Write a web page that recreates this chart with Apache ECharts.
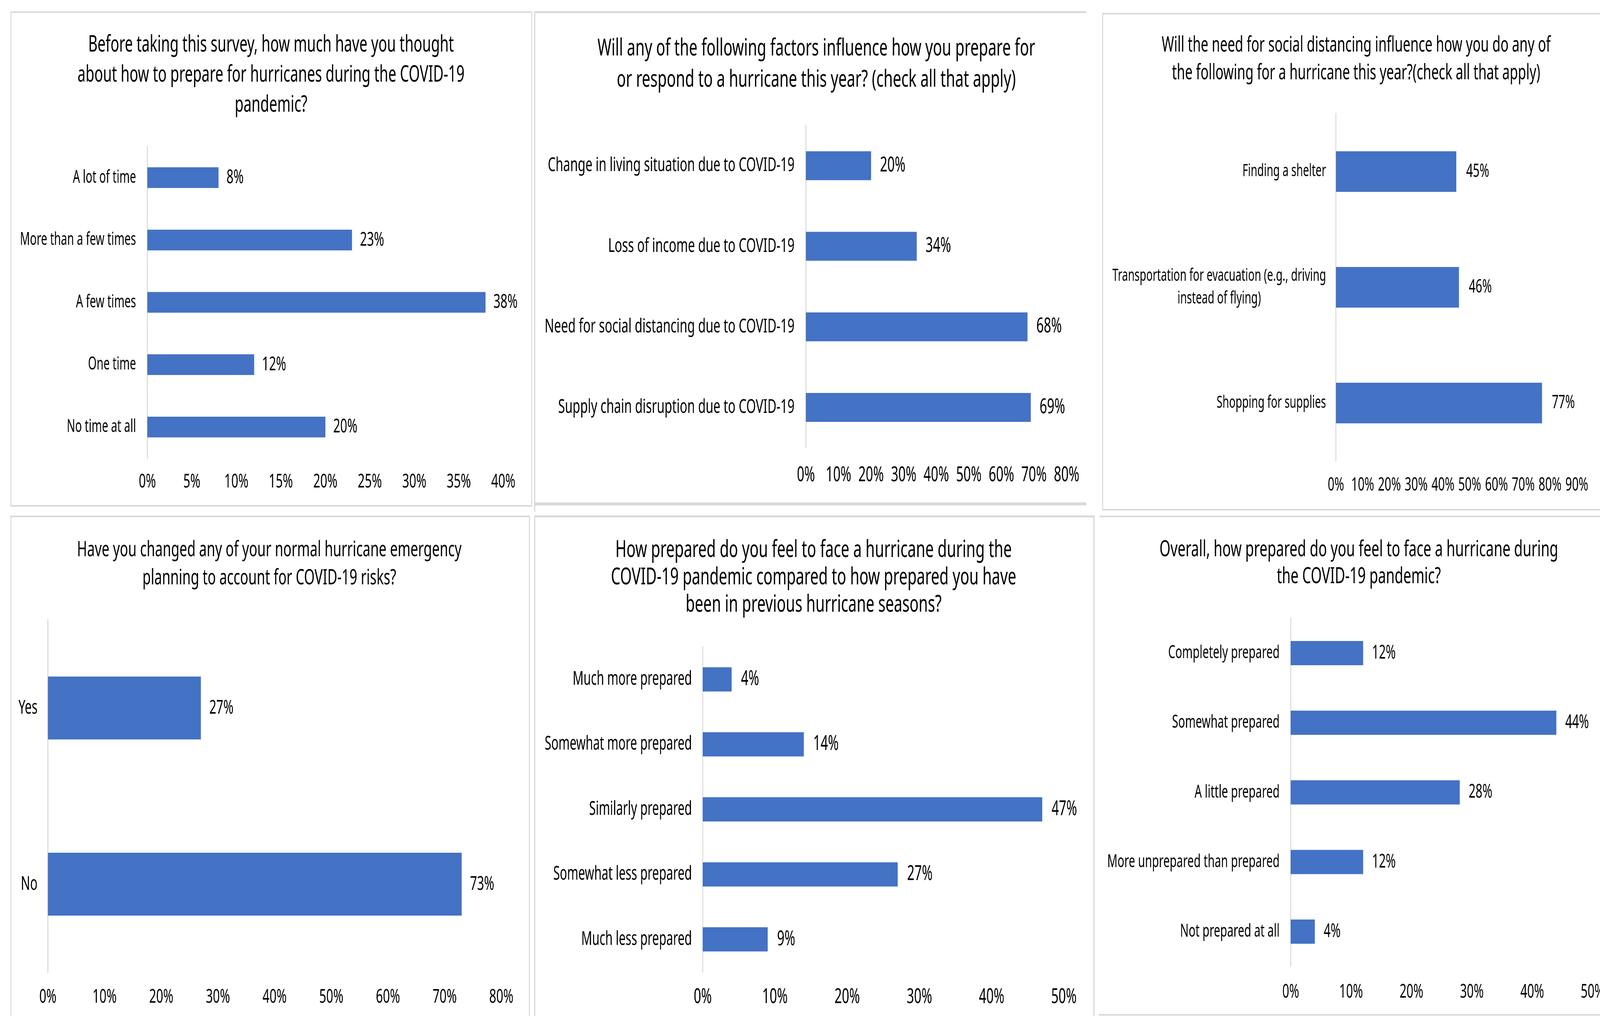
<!DOCTYPE html>
<html>
<head>
<meta charset="utf-8">
<script src="https://cdn.jsdelivr.net/npm/echarts@6/dist/echarts.min.js"></script>
<style>
html,body{margin:0;padding:0;background:#fff;overflow:hidden}
#c{width:6482px;height:2601px;transform-origin:0 0;position:absolute;left:0;top:0}
</style>
</head>
<body>
<div id="c"></div>
<script>
// ---------------- DATA ----------------
const q1Title = ['Before taking this survey, how much have you thought', 'about how to prepare for hurricanes during the COVID-19', 'pandemic?'];
const q1Categories = ['A lot of time', 'More than a few times', 'A few times', 'One time', 'No time at all'];
const q1Values = [8, 23, 38, 12, 20];
const q1AxisMax = 40, q1AxisStep = 5;

const q2Title = ['Will any of the following factors influence how you prepare for', 'or respond to a hurricane this year? (check all that apply)'];
const q2Categories = ['Change in living situation due to COVID-19', 'Loss of income due to COVID-19', 'Need for social distancing due to COVID-19', 'Supply chain disruption due to COVID-19'];
const q2Values = [20, 34, 68, 69];
const q2AxisMax = 80, q2AxisStep = 10;

const q3Title = ['Will the need for social distancing influence how you do any of', 'the following for a hurricane this year?(check all that apply)'];
const q3Categories = ['Finding a shelter', 'Transportation for evacuation (e.g., driving\ninstead of flying)', 'Shopping for supplies'];
const q3Values = [45, 46, 77];
const q3AxisMax = 90, q3AxisStep = 10;

const q4Title = ['Have you changed any of your normal hurricane emergency', 'planning to account for COVID-19 risks?'];
const q4Categories = ['Yes', 'No'];
const q4Values = [27, 73];
const q4AxisMax = 80, q4AxisStep = 10;

const q5Title = ['How prepared do you feel to face a hurricane during the', 'COVID-19 pandemic compared to how prepared you have', 'been in previous hurricane seasons?'];
const q5Categories = ['Much more prepared', 'Somewhat more prepared', 'Similarly prepared', 'Somewhat less prepared', 'Much less prepared'];
const q5Values = [4, 14, 47, 27, 9];
const q5AxisMax = 50, q5AxisStep = 10;

const q6Title = ['Overall, how prepared do you feel to face a hurricane during', 'the COVID-19 pandemic?'];
const q6Categories = ['Completely prepared', 'Somewhat prepared', 'A little prepared', 'More unprepared than prepared', 'Not prepared at all'];
const q6Values = [12, 44, 28, 12, 4];
const q6AxisMax = 50, q6AxisStep = 10;

// ---------------- STYLE / LAYOUT ----------------
const FAMILY = 'Noto Sans';
const TEXT = '#000000';
const BAR = '#4472C4';
const LINE = '#d9d9d9';
const PAGE_W = 6482, PAGE_H = 2601;

const mctx = document.createElement('canvas').getContext('2d');
function fit(text, target) {
  mctx.font = '100px "' + FAMILY + '"';
  return Math.round(100 * target / mctx.measureText(text).width * 10) / 10;
}

const panels = [
  {title: q1Title, cats: q1Categories, vals: q1Values, max: q1AxisMax, step: q1AxisStep,
   L: 597, R: 2039, T: 375, B: 1173, bar: 53, tx: 1098, ty: 116, tlh: 77, tw: 1480,
   catRef: 'More than a few times', catW: 470, catM: 46, tickW: 98, tickY: 1229, gap: 32, catLH: 56},
  {title: q2Title, cats: q2Categories, vals: q2Values, max: q2AxisMax, step: q2AxisStep,
   L: 3265, R: 4321, T: 321, B: 1146, bar: 74, tx: 3307, ty: 125, tlh: 80, tw: 1772,
   catRef: 'Need for social distancing due to COVID-19', catW: 1012, catM: 46, tickW: 103, tickY: 1212, gap: 36, catLH: 58},
  {title: q3Title, cats: q3Categories, vals: q3Values, max: q3AxisMax, step: q3AxisStep,
   L: 5412, R: 6388, T: 291, B: 1180, bar: 104, tx: 5494, ty: 117, tlh: 71, tw: 1575,
   catRef: 'Transportation for evacuation (e.g., driving', catW: 865, catM: 40, tickW: 93, tickY: 1238, gap: 40, catLH: 58},
  {title: q4Title, cats: q4Categories, vals: q4Values, max: q4AxisMax, step: q4AxisStep,
   L: 194, R: 2031, T: 1587, B: 2489, bar: 161, tx: 1091, ty: 1408, tlh: 72, tw: 1559,
   catRef: '10%', catW: 98, catM: 42, tickW: 98, tickY: 2548, gap: 34, catLH: 56},
  {title: q5Title, cats: q5Categories, vals: q5Values, max: q5AxisMax, step: q5AxisStep,
   L: 2847, R: 4310, T: 1656, B: 2488, bar: 62, tx: 3296, ty: 1409, tlh: 70, tw: 1605,
   catRef: 'Somewhat more prepared', catW: 596, catM: 44, tickW: 103, tickY: 2548, gap: 38, catLH: 58},
  {title: q6Title, cats: q6Categories, vals: q6Values, max: q6AxisMax, step: q6AxisStep,
   L: 5229, R: 6452, T: 1583, B: 2474, bar: 62, tx: 5505, ty: 1408, tlh: 69, tw: 1615,
   catRef: 'More unprepared than prepared', catW: 699, catM: 45, tickW: 96, tickY: 2535, gap: 36, catLH: 58}
];

const option = {
  animation: false,
  backgroundColor: '#ffffff',
  title: [], grid: [], xAxis: [], yAxis: [], series: [],
  graphic: []
};

panels.forEach((p, i) => {
  const titleSize = fit(p.title[0], p.tw);
  const catSize = fit(p.catRef, p.catW);
  const tickSize = fit('10%', p.tickW);
  option.title.push({
    text: p.title.join('\n'),
    left: p.tx, top: p.ty - p.tlh / 2, textAlign: 'center', padding: 0,
    textStyle: {fontFamily: FAMILY, fontWeight: 'normal', fontSize: titleSize, lineHeight: p.tlh, color: TEXT}
  });
  option.grid.push({left: p.L, top: p.T, width: p.R - p.L, height: p.B - p.T, containLabel: false, outerBoundsMode: 'none'});
  option.xAxis.push({
    type: 'value', gridIndex: i, min: 0, max: p.max, interval: p.step,
    axisLine: {show: false}, axisTick: {show: false}, splitLine: {show: false},
    axisLabel: {formatter: '{value}%', fontFamily: FAMILY, fontSize: tickSize, color: TEXT,
      margin: Math.round(p.tickY - p.B - tickSize * 0.4)}
  });
  option.yAxis.push({
    type: 'category', gridIndex: i, data: p.cats, inverse: true,
    axisLine: {show: true, lineStyle: {color: LINE, width: 4}},
    axisTick: {show: false}, splitLine: {show: false},
    axisLabel: {
      interval: 0, margin: p.catM, align: 'right',
      formatter: v => v.split('\n').map(s => '{c|' + s + '}').join('\n'),
      rich: {c: {align: 'center', fontFamily: FAMILY, fontSize: catSize, color: TEXT, lineHeight: p.catLH}}
    }
  });
  option.series.push({
    type: 'bar', xAxisIndex: i, yAxisIndex: i, data: p.vals, barWidth: p.bar,
    itemStyle: {color: BAR},
    label: {show: true, position: 'right', distance: p.gap, formatter: '{c}%',
      fontFamily: FAMILY, fontSize: tickSize, color: TEXT}
  });
});

// panel frames (decoration)
const frame = (pts, w) => ({type: 'polyline', silent: true, z: -1,
  shape: {points: pts}, style: {stroke: LINE, lineWidth: w || 4, fill: null}});
option.graphic = [
  frame([[44, 31], [2154, 31], [2154, 1295], [44, 1295], [44, 31]]),
  frame([[4401, 31], [2166, 31], [2166, 1311]], 5),
  frame([[2166, 1290], [4401, 1290]], 8),
  frame([[6600, 35], [4467, 35], [4467, 1305], [6600, 1305]]),
  frame([[44, 2700], [44, 1322], [2145, 1322], [2145, 2700]]),
  frame([[2166, 2700], [2166, 1322], [4432, 1322], [4432, 2700]], 5),
  frame([[4454, 1322], [6600, 1322]]),
  frame([[4452, 2598], [6600, 2598]])
];

// the browser viewport may be smaller than the requested page: fit the drawing into it
const vw = window.innerWidth || PAGE_W, vh = window.innerHeight || PAGE_H;
const box = document.getElementById('c');
if (vw < PAGE_W || vh < PAGE_H) {
  box.style.transform = 'scale(' + Math.min(1, vw / PAGE_W) + ',' + Math.min(1, vh / PAGE_H) + ')';
}

const chart = echarts.init(box, null, {renderer: 'canvas', width: PAGE_W, height: PAGE_H});
chart.setOption(option);
</script>
</body>
</html>
